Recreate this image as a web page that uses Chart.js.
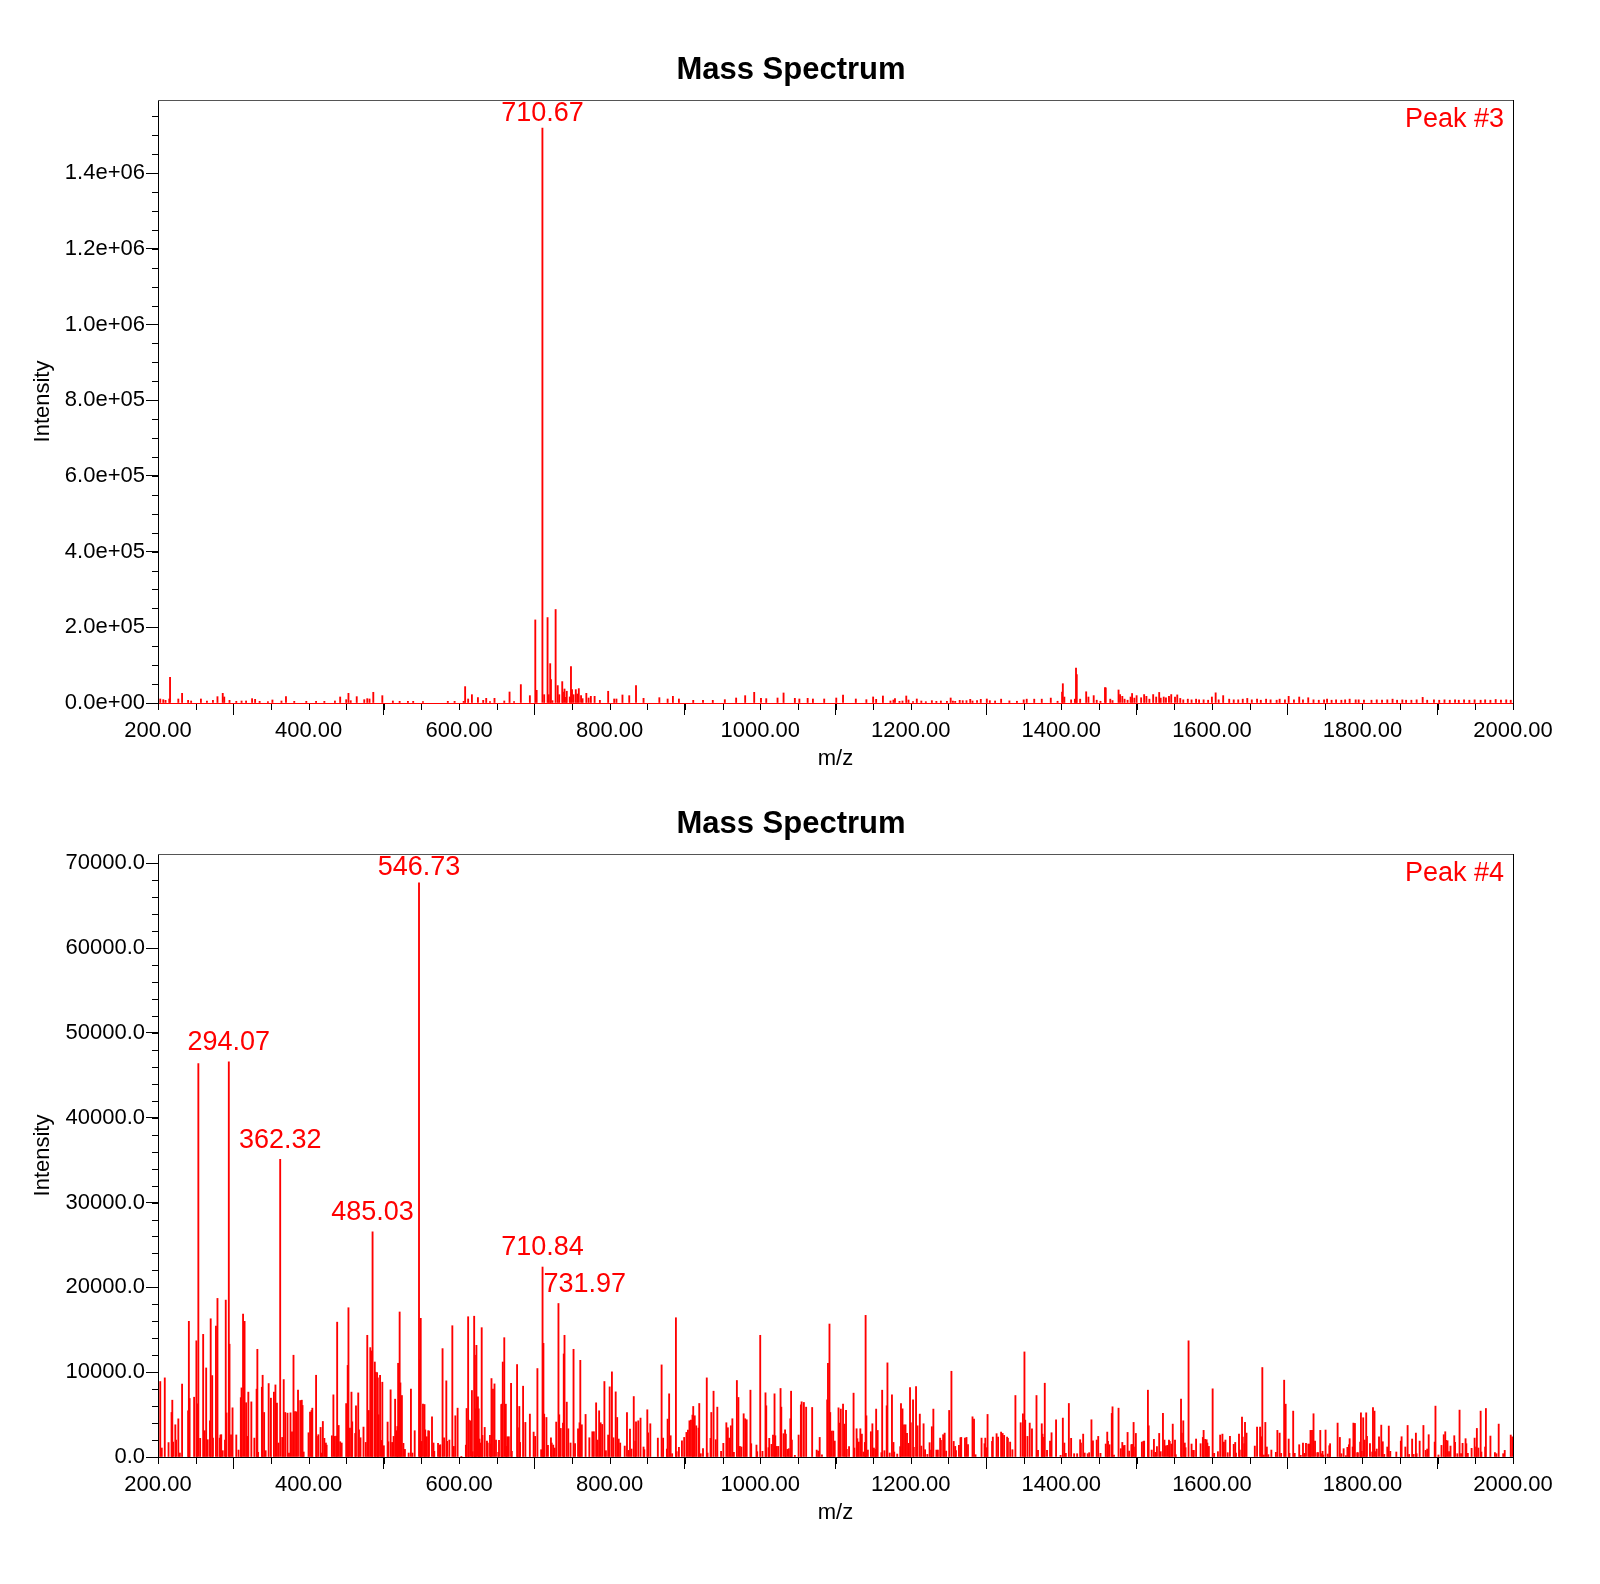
<!DOCTYPE html>
<html>
<head>
<meta charset="utf-8">
<script src="https://cdn.jsdelivr.net/npm/chart.js@4.4.1/dist/chart.umd.min.js"></script>
<style>
  html, body { margin: 0; padding: 0; background: #fff; }
  body { width: 1600px; height: 1584px; position: relative; overflow: hidden; }
  canvas { position: absolute; left: 0; width: 1600px; height: 780px; }
  #spec3 { top: 0; }
  #spec4 { top: 754px; }
</style>
</head>
<body>
<canvas id="spec3" width="1600" height="780"></canvas>
<canvas id="spec4" width="1600" height="780"></canvas>
<script>
// axis ticks
const xTicks = [200, 400, 600, 800, 1000, 1200, 1400, 1600, 1800, 2000]
const yTicks3 = [0, 200000, 400000, 600000, 800000, 1000000, 1200000, 1400000]
const yTicks4 = [0, 10000, 20000, 30000, 40000, 50000, 60000, 70000]

// Peak #3 spectrum (m/z, intensity)
const mz3 = [
  203, 207, 210, 215, 216, 227, 232, 240, 244, 257,
  265, 273, 279, 286, 288, 295, 304, 311, 317, 325,
  329, 335, 346, 352, 364, 370, 381, 397, 410, 421,
  435, 442, 450, 453, 456, 464, 474, 478, 481, 486,
  498, 512, 521, 532, 539, 552, 585, 594, 606, 608,
  612, 617, 625, 632, 636, 641, 647, 660, 667, 673,
  682, 694, 701.2, 703, 710.67, 713, 717.5, 719, 721, 722,
  724, 728.2, 731, 733, 737, 738, 740, 742, 743, 747,
  748.6, 750, 752, 755, 757, 759, 762, 764, 769, 772,
  775, 780, 787, 798, 806, 809, 817, 826, 835, 845,
  866, 877, 884, 892, 911, 924, 937, 953, 968, 980,
  992, 1001, 1008, 1023, 1031, 1046, 1052, 1063, 1070, 1085,
  1101, 1110, 1127, 1141, 1150, 1154, 1163, 1173, 1177, 1179,
  1185, 1189, 1194, 1197, 1203, 1208, 1214, 1220, 1228, 1234,
  1240, 1248, 1253, 1256, 1259, 1265, 1269, 1274, 1279, 1282,
  1288, 1293, 1301, 1305, 1312, 1320, 1331, 1341, 1350, 1354,
  1364, 1374, 1386, 1395, 1401, 1402, 1404, 1413, 1418, 1419.5,
  1420.5, 1425, 1433, 1436, 1443, 1447, 1452, 1458, 1459, 1465,
  1468, 1476, 1478, 1481, 1484, 1488, 1492, 1494, 1497, 1500,
  1506, 1510, 1513, 1517, 1522, 1526, 1530, 1532, 1536, 1539,
  1543, 1546, 1551, 1554, 1558, 1562, 1568, 1573, 1579, 1583,
  1589, 1595, 1600, 1605, 1609, 1615, 1623, 1629, 1635, 1641,
  1647, 1653, 1660, 1665, 1672, 1678, 1686, 1690, 1697, 1702,
  1709, 1716, 1721, 1728, 1735, 1742, 1749, 1753, 1759, 1765,
  1772, 1777, 1783, 1791, 1795, 1802, 1812, 1819, 1826, 1833,
  1840, 1846, 1853, 1858, 1865, 1872, 1880, 1886, 1895, 1902,
  1909, 1916, 1923, 1928, 1935, 1942, 1949, 1957, 1963, 1970,
  1977, 1984, 1991, 1997
]
const int3 = [
  10600, 8800, 7000, 10600, 68000, 10600, 25600, 7000, 5300, 10600,
  5300, 7000, 16800, 25600, 15900, 7000, 4400, 5300, 5300, 11500,
  9700, 4400, 3500, 8000, 5300, 16800, 4400, 4400, 4400, 4400,
  5300, 15900, 8800, 25600, 6200, 16800, 8800, 11500, 10600, 28300,
  19400, 5300, 4400, 4400, 4400, 3500, 4400, 4400, 4400, 43300,
  10600, 22000, 14100, 7000, 12400, 3500, 12400, 5300, 29100, 3500,
  48600, 19400, 219500, 33500, 1519000, 22000, 225700, 22000, 104000, 62000,
  6200, 247000, 46000, 22000, 56500, 29100, 37000, 15000, 31000, 16000,
  96000, 35300, 22000, 35300, 23800, 38000, 19400, 11500, 25600, 13200,
  17700, 17700, 7000, 31000, 10600, 10600, 21200, 19400, 46000, 12400,
  14100, 10600, 17700, 10600, 7000, 7000, 7000, 8800, 13200, 19400,
  28200, 12400, 11500, 13200, 26500, 12400, 10600, 12400, 10600, 10600,
  13200, 21200, 10600, 8800, 16000, 9700, 18500, 5300, 7900, 11500,
  4400, 5300, 18500, 7900, 3500, 10600, 5300, 3500, 6200, 4400,
  5300, 4400, 13200, 5300, 4400, 7100, 6200, 6200, 9700, 5300,
  6200, 9700, 10600, 6200, 5300, 10200, 5600, 4600, 8400, 10200,
  10200, 10200, 13000, 4600, 28800, 51000, 15800, 8400, 10200, 92000,
  75000, 10200, 29700, 15800, 19500, 7400, 4600, 40900, 40000, 10200,
  6500, 34400, 22300, 17700, 10200, 7400, 15800, 25100, 13000, 19500,
  13900, 22300, 17700, 10200, 22300, 15800, 27900, 13000, 15800, 13900,
  17700, 22300, 15800, 21400, 12100, 8400, 10200, 8400, 10200, 8400,
  8400, 7400, 15800, 26900, 8400, 19500, 10200, 8400, 8400, 10200,
  12100, 8400, 10200, 7400, 10200, 8400, 7400, 10200, 8400, 17700,
  8400, 15800, 8400, 13900, 8400, 7400, 8400, 10200, 7400, 8400,
  7400, 8400, 10200, 8400, 8400, 7400, 7400, 8400, 7400, 8400,
  10200, 7400, 8400, 7400, 7400, 8400, 14900, 7400, 8400, 7400,
  8400, 7400, 8400, 7400, 8400, 7400, 8400, 7400, 8400, 7400,
  9300, 7400, 8400, 7400
]

// Peak #4 spectrum (m/z, intensity)
const mz4 = [
  203, 205, 209, 214, 218, 219, 220, 223, 224, 227,
  229, 232, 240, 241, 242, 248, 251, 252, 253.6, 256,
  260, 262, 264, 266, 269, 270, 272, 273, 277, 279,
  282, 283, 284, 286, 289, 290, 291, 294.07, 295, 297,
  299, 304, 307, 310, 311, 313, 315, 317, 319, 320,
  324, 328, 331, 332, 333, 338, 339, 341, 343, 347,
  350, 354, 356, 358, 360, 362.32, 365, 367, 369, 372,
  374, 376, 378, 380, 382, 384, 386, 389, 391, 392,
  393.5, 400, 402, 404, 405, 410, 411, 413, 416, 417,
  419, 421, 423, 424, 431, 433, 435, 437, 438, 440,
  442, 444, 450, 452, 453, 455, 457, 458, 462, 463,
  466, 467, 469, 473, 476, 478, 480, 482, 484, 485.03,
  488, 489, 491, 492, 493, 495, 497, 498, 500, 505,
  506, 509, 511, 513, 515, 517, 518, 519, 521, 522,
  524, 526, 528, 533, 536, 538, 541, 546.73, 548, 549,
  550, 552, 554, 555, 557, 559, 560, 564, 566, 567,
  572, 574, 575, 578, 580, 583, 584, 587, 591, 593,
  595, 598, 603, 609, 610, 612, 613, 615, 617, 618,
  620, 621, 622, 623, 625, 626, 627, 628, 630, 631,
  634, 637, 638, 641, 642, 643, 645, 647, 649, 652,
  653, 656, 657, 658, 660, 662, 663, 664, 666, 669,
  670, 677, 678, 680, 681, 685, 688, 694, 699, 701,
  704, 709, 710.84, 712, 713, 716, 718, 722, 723, 725,
  727, 729, 731.97, 733, 735, 738, 739, 740, 743, 745,
  748, 752, 754, 758, 760, 761, 763, 768, 773, 777,
  779, 782, 784, 786, 788, 790, 793, 795, 798, 800,
  803, 805, 808, 810, 812, 814, 820, 823,
  825, 827, 829, 832, 834, 835, 838, 841, 845, 846,
  850, 851, 854, 864, 869, 871, 876, 877, 879, 881,
  883, 888, 889, 892, 896, 899, 902, 904, 906, 908,
  910, 911, 913, 915, 918, 919, 921, 924, 929, 930,
  934, 935, 938, 941, 943, 948, 951, 955, 957, 959,
  961, 963, 965, 969, 971, 973, 975, 978, 980, 982,
  987, 988, 995, 996, 1000, 1003, 1007, 1008, 1011, 1012,
  1015, 1017, 1019, 1020, 1022, 1024, 1027, 1028, 1031, 1033,
  1034, 1036, 1038, 1040, 1041, 1042, 1046, 1051, 1054, 1055,
  1058, 1061, 1069, 1075, 1077, 1079, 1082, 1089, 1090, 1092,
  1093, 1095, 1097, 1099, 1104, 1105, 1107, 1110, 1112, 1114,
  1115, 1118, 1124, 1125, 1128, 1129, 1131, 1133, 1135, 1137,
  1139, 1140, 1141, 1143, 1147, 1149, 1151, 1153, 1154, 1156,
  1161, 1162, 1165, 1168, 1169, 1172, 1175, 1177, 1178, 1182,
  1186, 1187, 1189, 1191, 1193, 1195, 1197, 1199, 1200, 1203,
  1204, 1207, 1209, 1212, 1214, 1217, 1219, 1222, 1225, 1227,
  1228, 1230, 1234, 1236, 1239, 1240, 1243, 1245, 1247, 1251,
  1254, 1257, 1259, 1260, 1264, 1266, 1267, 1272, 1274, 1276,
  1282, 1284, 1286, 1294, 1298, 1299, 1301, 1302, 1308, 1309,
  1314, 1316, 1320, 1322, 1324, 1328, 1329, 1332, 1335, 1339,
  1346, 1349, 1351, 1352, 1355, 1358, 1361, 1367, 1369, 1374,
  1375, 1377, 1378, 1381, 1385, 1387, 1393, 1399, 1402, 1404,
  1406, 1410, 1413, 1417, 1421, 1425, 1426, 1429, 1431, 1435,
  1437, 1440, 1442, 1447, 1449,
  1452, 1459, 1461, 1462, 1464, 1467, 1468, 1470, 1476, 1479,
  1481, 1483, 1484, 1488, 1490, 1493, 1494, 1496, 1498, 1499,
  1507, 1509, 1510, 1515, 1516, 1520, 1523, 1525, 1527, 1530,
  1532, 1535, 1537, 1539, 1541, 1543, 1544, 1546, 1548, 1551,
  1552, 1559, 1560, 1562, 1564, 1565, 1569, 1573, 1575, 1576,
  1579, 1585, 1588, 1589, 1591, 1593, 1594, 1596, 1601, 1603,
  1608, 1611, 1614, 1616, 1618, 1621, 1624, 1629, 1631, 1632,
  1636, 1637, 1640, 1641, 1643, 1644, 1646, 1657, 1660, 1664,
  1666, 1667, 1669, 1671, 1673, 1675, 1679, 1685, 1687, 1690,
  1692, 1696, 1698, 1702, 1703, 1708, 1710, 1716, 1718, 1721,
  1723, 1725, 1728, 1730, 1731, 1733, 1735, 1737, 1740, 1741,
  1744, 1746, 1747, 1748, 1751, 1754, 1756, 1757, 1767, 1770,
  1772, 1775, 1778, 1780, 1782, 1783, 1787, 1788, 1790, 1793,
  1794, 1797, 1798, 1799, 1801, 1803, 1805, 1806, 1810, 1813,
  1814, 1816, 1818, 1819, 1822, 1825, 1827, 1829, 1833, 1835,
  1837, 1845, 1851, 1852, 1857, 1860, 1862, 1866, 1868, 1871,
  1872, 1876, 1881, 1884, 1886, 1888, 1896, 1897, 1901, 1905,
  1908, 1910, 1911, 1913, 1915, 1917, 1922, 1923, 1926, 1929,
  1931, 1933, 1937, 1938, 1940, 1945, 1949, 1951, 1952, 1954,
  1957, 1958, 1963, 1964, 1970, 1976, 1978, 1981, 1987, 1989,
  1997, 1999
]
const int4 = [
  8900, 1060, 9330, 1700, 5250, 6700, 1760, 3800, 2000, 4500,
  470, 8600, 5450, 16000, 6900, 7050, 13700, 6270, 46400, 2200,
  14460, 3100, 10500, 2040, 4270, 16300, 9600, 2230, 15440, 18700,
  2230, 2590, 2630, 745, 2000, 18500, 5200, 46600, 13300, 2600,
  5800, 2600, 820, 7000, 8150, 16850, 16000, 6400, 2430, 7650,
  6500, 2230, 8000, 12700, 550, 8230, 9640, 5250, 745, 8660,
  6940, 7650, 8500, 6350, 1650, 35100, 2310, 9130, 5250, 5170,
  470, 5210, 2980, 12000, 5370, 5330, 7880, 6660, 6700, 6080,
  590, 2860, 5290, 5490, 5760, 9640, 2430, 2630, 3490, 470,
  4190, 2200, 1650, 1400, 2500, 7330, 2430, 2470, 15900, 3720,
  1800, 1650, 6300, 10800, 17600, 3400, 7650, 4150, 2780, 6040,
  7560, 3200, 2270, 3530, 1720, 14350, 5490, 12900, 12500, 26550,
  11200, 10000, 9960, 9330, 4980, 9640, 1960, 8820, 1330, 4120,
  1800, 7920, 1720, 2430, 6820, 3100, 3600, 11050, 17100, 8740,
  7250, 1610, 900, 470, 8000, 470, 3100, 67700, 11450, 16350,
  1840, 6230, 6190, 3200, 2390, 3100, 3060, 4740, 1650, 670,
  1610, 1370, 1450, 12780, 2270, 8980, 1840, 2000, 15480, 1250,
  4860, 5760, 80, 1400, 5720, 16540, 4350, 4270, 7840, 630,
  16600, 12000, 5680, 13170, 7100, 5680, 2120, 1650, 15250, 2550,
  3490, 1880, 1650, 2550, 1530, 9250, 8000, 8620, 2000, 550,
  1960, 6190, 6230, 11200, 14070, 6230, 1250, 2390, 2390, 8700,
  670, 10900, 3450, 5960, 1720, 8350, 4080, 5060, 2940, 2430,
  10430, 860, 22400, 13400, 5060, 4660, 1370, 2270, 1650, 1410,
  1060, 4120, 18100, 4980, 3370, 4000, 12150, 14350, 6470, 3330,
  1650, 12700, 1570, 3330, 4040, 11400, 3800, 5020, 2270, 2980,
  2980, 6390, 2000, 5450, 4040, 3840, 8900, 745, 2590, 8270,
  10040, 2270, 7680, 4660, 2120, 1650, 1290, 5250,
  780, 3290, 940, 7130, 1880, 4150, 4270, 4590, 1180, 860,
  5570, 2860, 3920, 2230, 10860, 2230, 940, 4470, 7450, 2510,
  390, 16420, 630, 1140, 1920, 2310, 2900, 3180, 4270, 4350,
  4940, 5960, 4860, 3680, 3410, 6310, 390, 980, 9330, 470,
  2200, 5250, 7760, 2040, 5880, 670, 1610, 4040, 3450, 2230,
  3680, 4510, 550, 9020, 7020, 1250, 1180, 5100, 4510, 4390,
  7880, 1570, 1410, 630, 14350, 670, 7570, 6040, 1100, 2200,
  1490, 2590, 7450, 2510, 1250, 1250, 8080, 5880, 2750, 3210,
  2700, 900, 980, 4510, 7760, 2000, 200, 2590, 6150, 6510,
  6430, 5880, 5840, 820, 700, 2310, 270, 6740, 11050, 15680,
  5250, 3060, 3060, 1880, 5800, 4000, 5650, 6230, 3880, 5490,
  900, 1220, 7530, 1060, 3330, 2160, 1760, 3330, 2700, 590,
  1720, 16700, 4860, 820, 2980, 3920, 1060, 900, 5650, 3130,
  510, 7880, 745, 6040, 11100, 470, 7330, 1720, 590, 350,
  1220, 6310, 5680, 3800, 3800, 2780, 1610, 8190, 4040, 6740,
  1140, 8310, 3680, 5060, 1290, 3920, 860, 310, 1690, 820,
  3570, 5650, 820, 820, 2230, 1960, 2630, 2820, 700, 5490,
  10110, 1840, 1250, 745, 1370, 2270, 2310, 2230, 2310, 1450,
  4740, 4470, 270, 2230, 1570, 2230, 1100, 5020, 1840, 2350,
  2750, 2350, 2940, 2780, 2550, 2350, 2200, 1760, 860, 7250,
  4040, 5100, 12390, 4350, 2430, 4000, 3330, 7250, 780, 3920,
  2700, 2310, 8700, 780, 1880, 2860, 4390, 200, 4590, 1650,
  430, 6310, 2200, 390, 390, 2040, 1650, 2700, 470, 390,
  510, 4390, 1920, 2000, 2430,
  430, 1530, 2940, 1840, 1450, 5140, 5920, 235, 5760, 980,
  1720, 1330, 1370, 2900, 700, 1450, 1490, 4080, 1180, 2780,
  1760, 1840, 1880, 7880, 3680, 820, 2080, 550, 1220, 2780,
  630, 5140, 2000, 1330, 1370, 2000, 1840, 1530, 3880, 2000,
  275, 6820, 2820, 4270, 1650, 1100, 13700, 1530, 780, 780,
  2120, 1570, 2310, 3140, 2080, 2040, 1650, 1250, 8040, 430,
  630, 2590, 2700, 1760, 2000, 510, 2430, 1490, 1720, 470,
  2700, 820, 4700, 2350, 1570, 4080, 2820, 1290, 3530, 3530,
  2390, 10550, 235, 4080, 1180, 275, 820, 550, 3140, 2820,
  430, 9060, 6230, 2120, 430, 5410, 430, 1450, 200, 1650,
  430, 1610, 1530, 1530, 3140, 3140, 5100, 1880, 510, 510,
  3140, 390, 670, 235, 3180, 350, 1330, 1570, 4000, 2310,
  390, 980, 160, 1140, 1450, 2160, 1180, 4000, 3960, 510,
  510, 1760, 5210, 670, 4630, 2000, 5210, 2430, 1570, 590,
  5840, 5410, 630, 940, 2390, 3760, 1800, 310, 1180, 3650,
  670, 590, 1880, 2390, 1180, 3720, 310, 2120, 310, 2820,
  390, 1880, 3720, 780, 940, 2630, 1760, 6000, 235, 1370,
  2630, 2980, 1960, 1920, 630, 1290, 2510, 1720, 390, 5530,
  390, 1610, 2160, 1570, 430, 1020, 2230, 1180, 3370, 1060,
  5410, 590, 1180, 5720, 2470, 510, 390, 3880, 390, 780,
  2590, 2390
]

// labelled peaks
const labels3 = [710.67]
const labels4 = [294.07, 362.32, 485.03, 546.73, 710.84, 731.97]

Chart.defaults.font.family = "'Liberation Sans', Arial, sans-serif"

const fmtExp = v => v.toExponential(1).replace(/e([+-])(\d)$/, (m, s, d) => 'e' + s + '0' + d)
const fmtFix = v => v.toFixed(1)

// minor ticks, peak labels and corner text
const specMarks = {
    id: 'specMarks',
    afterDraw(chart, args, opts) {
        const ctx = chart.ctx
        const xs = chart.scales.x
        const ys = chart.scales.y
        const a = chart.chartArea

        ctx.save()
        ctx.strokeStyle = '#000'
        ctx.lineWidth = 1
        ctx.beginPath()
        for (let v = xs.min; v <= xs.max + 1e-6; v += opts.xMinor) {
            const px = Math.round(xs.getPixelForValue(v)) + 0.5
            ctx.moveTo(px, a.bottom + 1)
            ctx.lineTo(px, a.bottom + 7)
        }
        for (let v = 0; v <= ys.max; v += opts.yMinor) {
            const py = Math.round(ys.getPixelForValue(v)) + 0.5
            ctx.moveTo(a.left - 6, py)
            ctx.lineTo(a.left, py)
        }
        ctx.stroke()

        const pts = chart.data.datasets[0].data
        const peaks = opts.peaks.map(m => {
            const p = pts.find(d => d.x === m)
            return { m: m, x: xs.getPixelForValue(m), top: ys.getPixelForValue(p.y) }
        })

        ctx.font = "27px 'Liberation Sans', Arial, sans-serif"
        ctx.fillStyle = '#ff0000'
        ctx.textBaseline = 'middle'
        ctx.textAlign = 'left'
        peaks.forEach(p => {
            const txt = p.m.toFixed(2)
            const w = ctx.measureText(txt).width
            const cy = Math.max(p.top - 19, a.top + 13.5)
            let left = p.x - w / 2
            // keep the label off the line of another labelled peak
            peaks.forEach(q => {
                if (q === p) return
                if (q.x > left && q.x < left + w && q.top < cy + 13) {
                    left = q.x < p.x ? q.x + 1 : q.x - 1 - w
                }
            })
            ctx.fillText(txt, left, cy)
        })

        ctx.textAlign = 'right'
        ctx.fillText(opts.corner, a.right - 9, a.top + 19.5)
        ctx.restore()
    }
}

function makeSpectrum(id, mz, inten, yTicks, yMax, yFmt, yMinor, peaks, corner, baseColor) {
    return new Chart(document.getElementById(id), {
        type: 'bar',
        data: {
            datasets: [{
                data: mz.map((m, i) => ({ x: m, y: inten[i] })),
                backgroundColor: '#ff0000',
                borderWidth: 0,
                barThickness: 1.2,
                xAxisID: 'x',
                yAxisID: 'y'
            }]
        },
        options: {
            responsive: false,
            animation: false,
            layout: { padding: { left: 0, right: 18, top: 0, bottom: 0 } },
            plugins: {
                legend: { display: false },
                tooltip: { enabled: false },
                title: {
                    display: true,
                    text: 'Mass Spectrum',
                    color: '#000',
                    font: { size: 31, weight: 'bold' },
                    padding: { top: 52, bottom: 10.8 }
                },
                specMarks: { xMinor: 50, yMinor: yMinor, peaks: peaks, corner: corner }
            },
            scales: {
                x: {
                    type: 'linear',
                    min: 200,
                    max: 2000,
                    offset: false,
                    afterBuildTicks: s => { s.ticks = xTicks.map(v => ({ value: v })) },
                    afterFit: s => { s.height = 77 },
                    grid: { drawOnChartArea: false, tickLength: 12, color: '#000', tickColor: '#000' },
                    border: { color: baseColor, width: 1 },
                    ticks: { color: '#000', font: { size: 22 }, padding: 3, maxRotation: 0, autoSkip: false, callback: v => v.toFixed(2) },
                    title: { display: true, text: 'm/z', color: '#000', font: { size: 22 }, padding: { top: 0, bottom: 8 } }
                },
                y: {
                    type: 'linear',
                    min: 0,
                    max: yMax,
                    afterBuildTicks: s => { s.ticks = yTicks.map(v => ({ value: v })) },
                    afterFit: s => { s.width = 158 },
                    grid: { drawOnChartArea: false, tickLength: 12, color: '#000', tickColor: '#000' },
                    border: { color: '#000', width: 1 },
                    ticks: { color: '#000', font: { size: 22 }, padding: 1, autoSkip: false, callback: yFmt },
                    title: { display: true, text: 'Intensity', color: '#000', font: { size: 22 }, padding: { top: 30, bottom: 0 } }
                },
                xT: {
                    type: 'linear',
                    position: 'top',
                    ticks: { display: false },
                    grid: { display: false },
                    border: { color: '#555', width: 1 },
                    afterFit: s => { s.height = 0 }
                },
                yR: {
                    type: 'linear',
                    position: 'right',
                    ticks: { display: false },
                    grid: { display: false },
                    border: { color: '#000', width: 1 },
                    afterFit: s => { s.width = 69 }
                }
            }
        },
        plugins: [specMarks]
    })
}

makeSpectrum('spec3', mz3, int3, yTicks3, 1593000, fmtExp, 50000, labels3, 'Peak #3', '#ff0000')
makeSpectrum('spec4', mz4, int4, yTicks4, 71100, fmtFix, 2000, labels4, 'Peak #4', '#000')
</script>
</body>
</html>
